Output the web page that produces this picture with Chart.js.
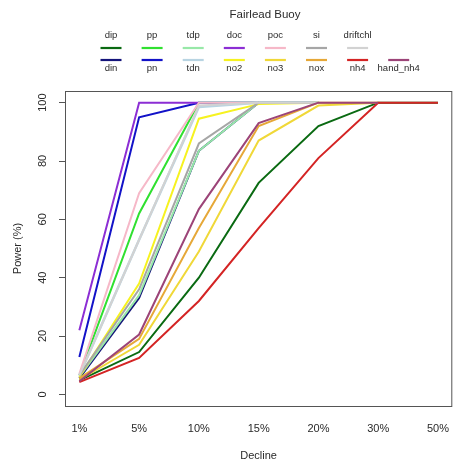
<!DOCTYPE html>
<html>
<head>
<meta charset="utf-8">
<title>Fairlead Buoy</title>
<script src="https://cdn.jsdelivr.net/npm/chart.js@4/dist/chart.umd.min.js"></script>
<style>
  html, body { margin: 0; padding: 0; background: #fff; }
  #wrap { width: 465px; height: 466px; position: relative; }
</style>
</head>
<body>
<div id="wrap"><canvas id="chart"></canvas></div>
<script>
// Decline levels on the x axis
const declineLabels = ['1%', '5%', '10%', '15%', '20%', '30%', '50%'];

// Power (%) per variable at each decline level (null = not simulated)
const dip      = [4.8, 14.5, 40,   72.5, 92,   100, 100];
const din      = [5.5, 33,   83.5, 100,  100,  null, null];
const pp       = [6.5, 62,   100,  100,  null, null, null];
const pn       = [12.8, 95,  100,  100,  null, null, null];
const tdp      = [6,   34,   83.5, 100,  100,  null, null];
const tdn      = [6.5, 53,   98.5, 100,  100,  null, null];
const doc      = [22,  100,  100,  null, null, null, null];
const no2      = [6,   38,   94.5, 99.5, 100,  null, null];
const poc      = [7,   69,   100,  100,  null, null, null];
const no3      = [5,   17,   49,   87,   99,   100, null];
const si       = [6.5, 36,   86,   100,  100,  null, null];
const nox      = [5.5, 19,   57,   92,   100,  100, null];
const driftchl = [6.5, 53,   99,   100,  100,  null, null];
const nh4      = [4.2, 12.5, 32,   57,   81,   100, 100];
const hand_nh4 = [4.5, 20.5, 63.5, 93,   100,  100, null];

// y axis tick values
const powerTicks = [0, 20, 40, 60, 80, 100];

// series in plotting order (later ones drawn on top)
const seriesNames = ['dip', 'din', 'pp', 'pn', 'tdp', 'tdn', 'doc', 'no2',
                     'poc', 'no3', 'si', 'nox', 'driftchl', 'nh4', 'hand_nh4'];
const seriesValues = { dip, din, pp, pn, tdp, tdn, doc, no2, poc, no3, si, nox, driftchl, nh4, hand_nh4 };

// legend layout: two rows
const legendTopRow = ['dip', 'pp', 'tdp', 'doc', 'poc', 'si', 'driftchl'];
const legendBottomRow = ['din', 'pn', 'tdn', 'no2', 'no3', 'nox', 'nh4', 'hand_nh4'];

const chartTitle = 'Fairlead Buoy';

const lineColors = {
  dip: '#0a6a12', din: '#14147a', pp: '#30e030', pn: '#1212c8',
  tdp: '#98e8a8', tdn: '#b8d4e2', doc: '#8c2ed4', no2: '#f6f220',
  poc: '#f6b8c8', no3: '#f0d838', si: '#a6a6a6', nox: '#e6a838',
  driftchl: '#d2d2d2', nh4: '#d42424', hand_nh4: '#9c4478'
};

const FONT = '"Liberation Sans", Arial, sans-serif';
const TEXT = '#2a2a2a';

const datasets = seriesNames.map((name, i) => ({
  label: name,
  data: seriesValues[name].map((v, k) => ({ x: k, y: v })),
  borderColor: lineColors[name],
  backgroundColor: lineColors[name],
  borderWidth: name === 'tdn' ? 2.5 : 2,
  pointRadius: 0,
  tension: 0,
  spanGaps: false,
  fill: false,
  order: seriesNames.length - i
}));

// frame, rotated y tick labels, title and legend
const decorations = {
  id: 'decorations',
  afterDraw(chart) {
    const ctx = chart.ctx;
    const a = chart.chartArea;
    ctx.save();
    ctx.strokeStyle = '#555';
    ctx.lineWidth = 1;
    ctx.strokeRect(a.left + 0.5, a.top + 0.5, a.right - a.left - 1, a.bottom - a.top);

    // y tick labels, parallel to the axis
    const ys = chart.scales.y;
    ctx.fillStyle = TEXT;
    ctx.font = '11px ' + FONT;
    ctx.textAlign = 'center';
    ctx.textBaseline = 'middle';
    ys.ticks.forEach(t => {
      const py = ys.getPixelForValue(t.value);
      ctx.save();
      ctx.translate(43, py);
      ctx.rotate(-Math.PI / 2);
      ctx.fillText(String(t.value), 0, 0);
      ctx.restore();
    });

    // title
    ctx.font = '11.5px ' + FONT;
    ctx.fillText(chartTitle, 265, 15);

    // legend
    ctx.font = '9.5px ' + FONT;
    const colX = c => 111 + 41.1 * c;
    const half = 10.5;
    ctx.lineWidth = 2.2;
    legendTopRow.forEach((name, c) => {
      const cx = colX(c);
      ctx.fillStyle = TEXT;
      ctx.fillText(name, cx, 35);
      ctx.strokeStyle = lineColors[name];
      ctx.beginPath(); ctx.moveTo(cx - half, 48); ctx.lineTo(cx + half, 48); ctx.stroke();
    });
    legendBottomRow.forEach((name, c) => {
      const cx = colX(c);
      ctx.fillStyle = TEXT;
      ctx.fillText(name, cx, 68);
      ctx.strokeStyle = lineColors[name];
      ctx.beginPath(); ctx.moveTo(cx - half, 60); ctx.lineTo(cx + half, 60); ctx.stroke();
    });
    ctx.restore();
  }
};

new Chart(document.getElementById('chart'), {
  type: 'line',
  data: { datasets },
  options: {
    responsive: true,
    maintainAspectRatio: false,
    animation: false,
    layout: { padding: { top: 91, right: 1, left: 0, bottom: 0 } },
    plugins: {
      legend: { display: false },
      tooltip: { enabled: false },
      title: { display: false }
    },
    scales: {
      x: {
        type: 'linear',
        min: -0.24,
        max: 6.24,
        grid: { display: false, drawTicks: false },
        border: { display: false },
        ticks: {
          stepSize: 1,
          includeBounds: false,
          padding: 16,
          color: TEXT,
          font: { family: FONT, size: 11 },
          maxRotation: 0,
          callback: v => declineLabels[v] ?? ''
        },
        title: {
          display: true,
          text: 'Decline',
          color: TEXT,
          font: { family: FONT, size: 11 },
          padding: { top: 0, bottom: 3 }
        },
        afterFit: s => { s.height = 60; }
      },
      y: {
        type: 'linear',
        min: -4,
        max: 104,
        grid: {
          display: true,
          drawOnChartArea: false,
          drawTicks: true,
          tickLength: 6,
          color: '#555'
        },
        border: { display: false },
        ticks: {
          stepSize: 20,
          includeBounds: false,
          display: false
        },
        afterBuildTicks: s => { s.ticks = powerTicks.map(v => ({ value: v })); },
        title: {
          display: true,
          text: 'Power (%)',
          color: TEXT,
          font: { family: FONT, size: 11 },
          padding: { top: 11, bottom: 0 }
        },
        afterFit: s => { s.width = 65; }
      }
    }
  },
  plugins: [decorations]
});
</script>
</body>
</html>
